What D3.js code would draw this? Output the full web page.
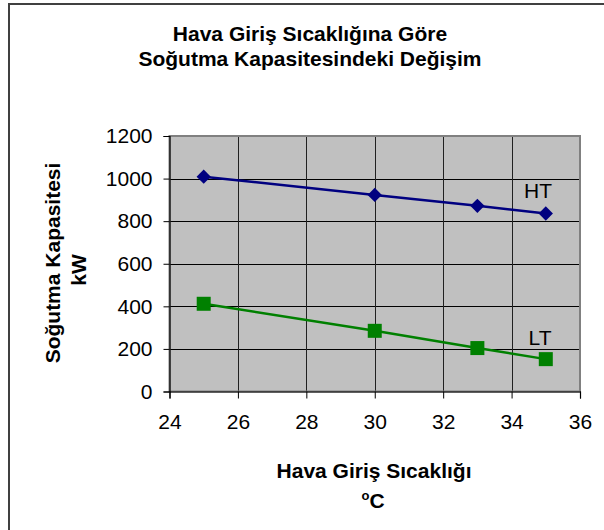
<!DOCTYPE html>
<html><head><meta charset="utf-8">
<script src="https://cdn.jsdelivr.net/npm/d3@7"></script>
<style>body{margin:0;background:#fff}svg{display:block}text{font-family:"Liberation Sans",Arial,sans-serif}</style>
</head><body>
<script>
const xValues = [25, 30, 33, 35];
const htValues = [1009, 923, 872, 836];
const ltValues = [412, 285, 204, 152];
const seriesNames = ["HT", "LT"];
const xTicks = [24, 26, 28, 30, 32, 34, 36];
const yTicks = [0, 200, 400, 600, 800, 1000, 1200];
const titleLines = ["Hava Giriş Sıcaklığına Göre", "Soğutma Kapasitesindeki Değişim"];

const W = 604, H = 530;
const svg = d3.select("body").append("svg").attr("width", W).attr("height", H);
svg.append("rect").attr("width", W).attr("height", H).attr("fill", "#fff");
// outer chart border (right/bottom cut off)
svg.append("rect").attr("x", 9).attr("y", 4).attr("width", W + 20).attr("height", H + 20)
  .attr("fill", "none").attr("stroke", "#404040").attr("stroke-width", 2);

const L = 169.5, R = 580, T = 136, B = 391.5;
const x = d3.scaleLinear().domain([24, 36]).range([L, R]);
const y = d3.scaleLinear().domain([0, 1200]).range([B, T]);

svg.append("rect").attr("x", L).attr("y", T).attr("width", R - L).attr("height", B - T)
  .attr("fill", "#c0c0c0");

// grid
svg.append("g").selectAll("line").data(yTicks.slice(1)).join("line")
  .attr("x1", L).attr("x2", R).attr("y1", d => Math.round(y(d)) + 0.5).attr("y2", d => Math.round(y(d)) + 0.5)
  .attr("stroke", "#000").attr("stroke-width", 1);
svg.append("g").selectAll("line").data(xTicks.slice(1, -1)).join("line")
  .attr("y1", T).attr("y2", B).attr("x1", d => Math.round(x(d)) + 0.5).attr("x2", d => Math.round(x(d)) + 0.5)
  .attr("stroke", "#202020").attr("stroke-width", 1);

// plot border
svg.append("rect").attr("x", L).attr("y", T).attr("width", R - L).attr("height", B - T)
  .attr("fill", "none").attr("stroke", "#808080").attr("stroke-width", 2);

// axes
const yAxis = d3.axisLeft(y).tickValues(yTicks).tickFormat(d3.format("d")).tickSize(6).tickPadding(11);
const gy = svg.append("g").attr("transform", `translate(${L},0)`).call(yAxis);
const xAxis = d3.axisBottom(x).tickValues(xTicks).tickFormat(d3.format("d")).tickSize(7).tickPadding(16);
const gx = svg.append("g").attr("transform", `translate(0,${B})`).call(xAxis);
[gx, gy].forEach(g => {
  g.attr("font-size", 21).attr("font-family", '"Liberation Sans",Arial,sans-serif');
  g.select(".domain").attr("stroke", "#000").attr("stroke-width", 1.2);
  g.selectAll(".tick line").attr("stroke", "#000");
  g.selectAll("text").attr("fill", "#000");
});

// series
const line = d3.line().x((d, i) => x(xValues[i])).y(d => y(d));
svg.append("path").datum(htValues).attr("d", line).attr("fill", "none")
  .attr("stroke", "#000080").attr("stroke-width", 2.5);
svg.append("path").datum(ltValues).attr("d", line).attr("fill", "none")
  .attr("stroke", "#008000").attr("stroke-width", 2.5);

svg.append("g").selectAll("path").data(htValues).join("path")
  .attr("d", d3.symbol(d3.symbolDiamond2, 130)())
  .attr("transform", (d, i) => `translate(${x(xValues[i])},${y(d)})`)
  .attr("fill", "#000080");
svg.append("g").selectAll("rect").data(ltValues).join("rect")
  .attr("x", (d, i) => x(xValues[i]) - 7).attr("y", d => y(d) - 7)
  .attr("width", 14).attr("height", 14).attr("fill", "#008000");

// series labels
svg.append("text").attr("x", 538).attr("y", 198).attr("text-anchor", "middle")
  .attr("font-size", 21).text(seriesNames[0]);
svg.append("text").attr("x", 540).attr("y", 345).attr("text-anchor", "middle")
  .attr("font-size", 21).text(seriesNames[1]);

// title
svg.append("text").attr("x", 310).attr("y", 41).attr("text-anchor", "middle")
  .attr("font-size", 21).attr("font-weight", "bold").text(titleLines[0]);
svg.append("text").attr("x", 310).attr("y", 66).attr("text-anchor", "middle")
  .attr("font-size", 21).attr("font-weight", "bold").text(titleLines[1]);

// axis titles
svg.append("text").attr("x", 374).attr("y", 478).attr("text-anchor", "middle")
  .attr("font-size", 21).attr("font-weight", "bold").text("Hava Giriş Sıcaklığı");
const deg = svg.append("text").attr("x", 373).attr("y", 508).attr("text-anchor", "middle")
  .attr("font-size", 21).attr("font-weight", "bold");
deg.append("tspan").attr("font-size", 13).attr("dy", -8).text("o");
deg.append("tspan").attr("dy", 8).text("C");

svg.append("text").attr("transform", "translate(60,263) rotate(-90)").attr("text-anchor", "middle")
  .attr("font-size", 21).attr("font-weight", "bold").text("Soğutma Kapasitesi");
svg.append("text").attr("transform", "translate(86,270) rotate(-90)").attr("text-anchor", "middle")
  .attr("font-size", 21).attr("font-weight", "bold").text("kW");
</script>
</body></html>
